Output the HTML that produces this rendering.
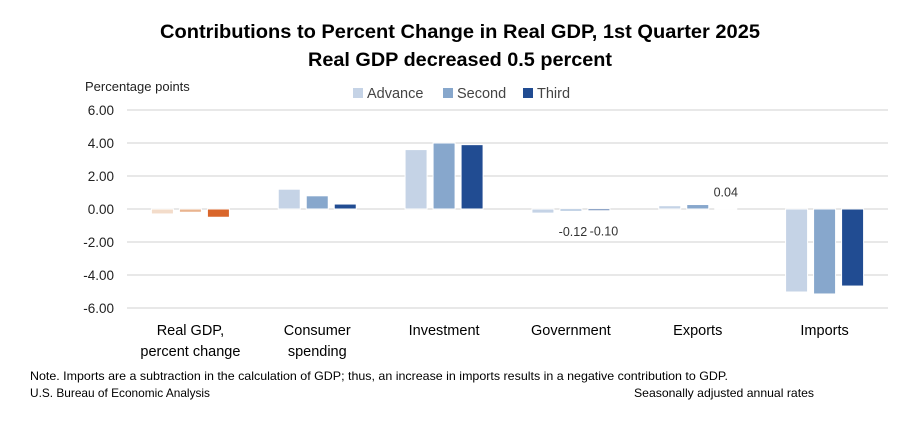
<!DOCTYPE html>
<html><head><meta charset="utf-8"><style>
body{margin:0;background:#fff;font-family:"Liberation Sans",sans-serif;}
svg{display:block}
</style></head><body>
<svg id="chart" width="924" height="426" viewBox="0 0 924 426">
<rect x="0" y="0" width="924" height="426" fill="#fff"/>
<text x="460" y="38" text-anchor="middle" font-size="19" font-weight="bold" fill="#000" textLength="600" lengthAdjust="spacingAndGlyphs">Contributions to Percent Change in Real GDP, 1st Quarter 2025</text>
<text x="460" y="66" text-anchor="middle" font-size="19" font-weight="bold" fill="#000" textLength="304" lengthAdjust="spacingAndGlyphs">Real GDP decreased 0.5 percent</text>
<text x="85" y="91" font-size="13" fill="#222">Percentage points</text>
<g id="legend"></g>
<g id="grid"></g><g id="bars"></g><g id="labels"></g>
<text x="30" y="380" font-size="12" fill="#000" textLength="698" lengthAdjust="spacingAndGlyphs">Note. Imports are a subtraction in the calculation of GDP; thus, an increase in imports results in a negative contribution to GDP.</text>
<text x="30" y="397" font-size="12" fill="#000" textLength="180" lengthAdjust="spacingAndGlyphs">U.S. Bureau of Economic Analysis</text>
<text x="634" y="397" font-size="12" fill="#000" textLength="180" lengthAdjust="spacingAndGlyphs">Seasonally adjusted annual rates</text>
</svg>
<script>
const categories=[["Real GDP,","percent change"],["Consumer","spending"],["Investment"],["Government"],["Exports"],["Imports"]];
const seriesNames=["Advance","Second","Third"];
const advance=[-0.3,1.2,3.6,-0.25,0.2,-5.03];
const second=[-0.2,0.8,4.0,-0.12,0.27,-5.15];
const third=[-0.5,0.3,3.9,-0.10,0.04,-4.67];
const yTicks=[6,4,2,0,-2,-4,-6];
const tickLabels=["6.00","4.00","2.00","0.00","-2.00","-4.00","-6.00"];
const dataLabels=[{cat:3,s:1,text:"-0.12",dx:2},{cat:3,s:2,text:"-0.10",dx:5},{cat:4,s:2,text:"0.04",dx:0}];
const NS="http://www.w3.org/2000/svg";
const plotL=127,plotR=888,y0=209,ppu=16.5;
const y=v=>y0-v*ppu;
const band=(plotR-plotL)/categories.length;
const cx=i=>plotL+band*(i+0.5);
const blue=["#c5d3e6","#87a7cc","#214c92"],orange=["#f3dcca","#e9b48f","#d9662b"];
function mk(t,a,p){const e=document.createElementNS(NS,t);for(const k in a)e.setAttribute(k,a[k]);p.appendChild(e);return e;}
const grid=document.getElementById('grid'),bars=document.getElementById('bars'),labels=document.getElementById('labels'),legend=document.getElementById('legend');
yTicks.forEach((t,i)=>{
 const l=mk('line',{x1:plotL,x2:plotR,y1:y(t),y2:y(t),stroke:"#d9d9d9","stroke-width":1.3},grid);
 
 
 const tx=mk('text',{x:114,y:y(t)+5,"text-anchor":"end","font-size":13.5,fill:"#222"},grid);
 tx.textContent=tickLabels[i];
 
 
});
const series=[advance,second,third],bw=22,step=28;
categories.forEach((c,i)=>{
 series.forEach((s,j)=>{
  const v=s[i],top=Math.min(y(v),y(0)),h=Math.max(Math.abs(y(v)-y(0)),1);
  const r=mk('rect',{x:cx(i)+(j-1)*step-bw/2,y:top,width:bw,height:h,fill:(i===0?orange:blue)[j],stroke:"#fff","stroke-width":1},bars);
  
  
 });
 c.forEach((line,k)=>{
  const t=mk('text',{x:cx(i),y:335+k*21,"text-anchor":"middle","font-size":14.5,fill:"#000"},labels);
  t.textContent=line;
  
  
 });
});
dataLabels.forEach(d=>{
 const v=series[d.s][d.cat];
 const yy=v<0?y(v)+25:y(v)-12;
 const t=mk('text',{x:cx(d.cat)+(d.s-1)*step+d.dx,y:yy,"text-anchor":"middle","font-size":12.5,fill:"#333"},labels);
 t.textContent=d.text;
 
 
});
const lx=[353,443,523];
seriesNames.forEach((n,j)=>{
 const r=mk('rect',{x:lx[j],y:88,width:10,height:10,fill:blue[j]},legend);
 
 
 const t=mk('text',{x:lx[j]+14,y:98,"font-size":14.5,fill:"#444"},legend);
 t.textContent=n;
 
 
});
</script>
</body></html>
